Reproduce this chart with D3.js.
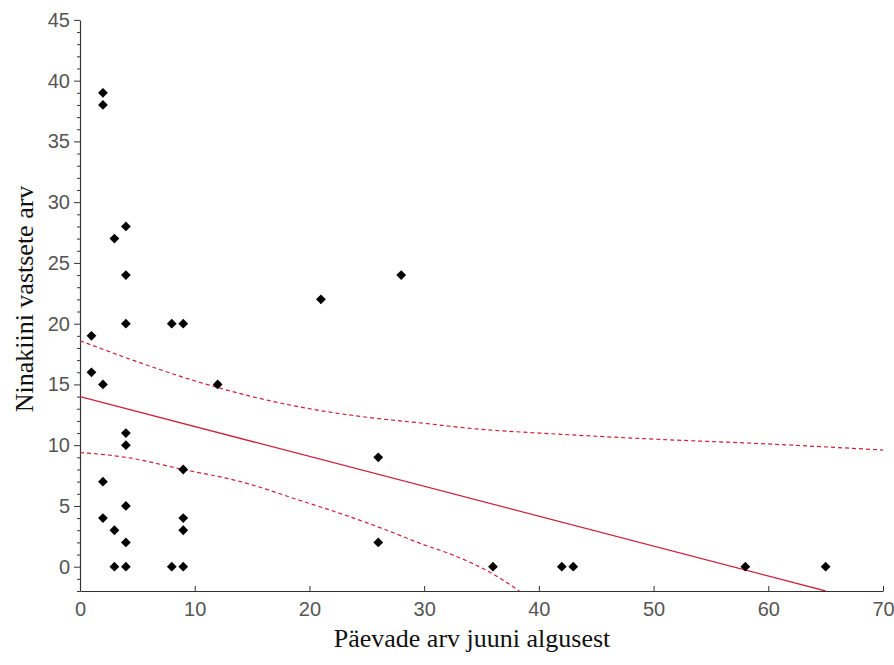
<!DOCTYPE html>
<html><head><meta charset="utf-8">
<script src="https://cdn.jsdelivr.net/npm/d3@7"></script>
<style>
html,body{margin:0;padding:0;background:#fff;}
svg{display:block;}
</style></head>
<body>
<svg id="chart" width="894" height="665"></svg>
<script>
// Scatter data: days from start of June (x) vs number of larvae (y)
const pointX = [1,1, 2,2,2,2,2, 3,3,3, 4,4,4,4,4,4,4,4, 8,8, 9,9,9,9,9, 12,21,26,26,28,36,42,43,58,65];
const pointY = [19,16, 39,38,15,7,4, 27,3,0, 28,24,20,11,10,5,2,0, 20,0, 20,8,4,3,0, 15,22,9,2,24,0,0,0,0,0];

// Regression line
const fitX = [0, 65];
const fitY = [14.0, -2.0];

// Confidence band
const upperX = [0, 4, 10, 15, 20, 25, 30, 35, 40, 50, 60, 70];
const upperY = [18.6, 17.2, 15.3, 14.0, 13.0, 12.3, 11.8, 11.3, 11.0, 10.5, 10.1, 9.6];
const lowerX = [0, 4, 9, 14, 19.2, 22, 26.2, 30, 32.4, 36, 38.3];
const lowerY = [9.4, 9.0, 8.0, 7.0, 5.45, 4.6, 3.2, 1.8, 1.0, -0.6, -2.0];

const xTicks = [0,10,20,30,40,50,60,70];
const yTicks = [0,5,10,15,20,25,30,35,40,45];
const xTitle = "Päevade arv juuni algusest";
const yTitle = "Ninakiini vastsete arv";

const svg = d3.select("#chart");
const x = d3.scaleLinear().domain([0,70]).range([80,883]);
const y = d3.scaleLinear().domain([-2,45]).range([591,19.9]);

const red = "#cc1f3a";

// minor y ticks
const minorY = d3.range(-2, 46, 1).filter(v => v % 5 !== 0);
svg.append("g").attr("transform","translate(80,0)")
  .call(d3.axisLeft(y).tickValues(minorY).tickSize(3).tickFormat(""))
  .call(g => g.select(".domain").remove())
  .call(g => g.selectAll("line").attr("stroke","#333"));

// major y axis
const yAx = svg.append("g").attr("transform","translate(80,0)")
  .call(d3.axisLeft(y).tickValues(yTicks).tickSize(6).tickPadding(4).tickSizeOuter(0));
yAx.select(".domain").attr("stroke","#333").attr("stroke-width",1.2);
yAx.selectAll("line").attr("stroke","#333");
yAx.selectAll("text").attr("font-family","'Liberation Sans', Arial, sans-serif")
  .attr("font-size",20).attr("fill","#555");

// x axis
const xAx = svg.append("g").attr("transform","translate(0,591)")
  .call(d3.axisBottom(x).tickValues(xTicks).tickSize(-5).tickPadding(11).tickSizeOuter(0));
xAx.select(".domain").attr("stroke","#333").attr("stroke-width",1.2);
xAx.selectAll("line").attr("stroke","#333");
xAx.selectAll("text").attr("font-family","'Liberation Sans', Arial, sans-serif")
  .attr("font-size",20).attr("fill","#555");

// clip to plot
svg.append("clipPath").attr("id","plot")
  .append("rect").attr("x",80).attr("y",19).attr("width",806).attr("height",572);

const line = d3.line().x(d => x(d[0])).y(d => y(d[1]));
const smooth = d3.line().x(d => x(d[0])).y(d => y(d[1])).curve(d3.curveMonotoneX);
const plot = svg.append("g").attr("clip-path","url(#plot)");

plot.append("path").datum(d3.zip(upperX, upperY)).attr("d", smooth)
  .attr("fill","none").attr("stroke",red).attr("stroke-width",1.2).attr("stroke-dasharray","4,3");
plot.append("path").datum(d3.zip(lowerX, lowerY)).attr("d", smooth)
  .attr("fill","none").attr("stroke",red).attr("stroke-width",1.2).attr("stroke-dasharray","4,3");
plot.append("path").datum(d3.zip(fitX, fitY)).attr("d", line)
  .attr("fill","none").attr("stroke",red).attr("stroke-width",1.3);

// points
const sym = d3.symbol().type(d3.symbolSquare).size(48);
svg.append("g").selectAll("path").data(d3.zip(pointX, pointY)).join("path")
  .attr("d", sym())
  .attr("transform", d => `translate(${x(d[0])},${y(d[1])}) rotate(45)`)
  .attr("fill","#000");

// titles
svg.append("text").attr("x",472).attr("y",647).attr("text-anchor","middle")
  .attr("font-family","'Liberation Serif','Times New Roman',serif").attr("font-size",26)
  .attr("fill","#111").text(xTitle);
svg.append("text").attr("transform","translate(33,299) rotate(-90)").attr("text-anchor","middle")
  .attr("font-family","'Liberation Serif','Times New Roman',serif").attr("font-size",26)
  .attr("fill","#111").text(yTitle);
</script>
</body></html>
